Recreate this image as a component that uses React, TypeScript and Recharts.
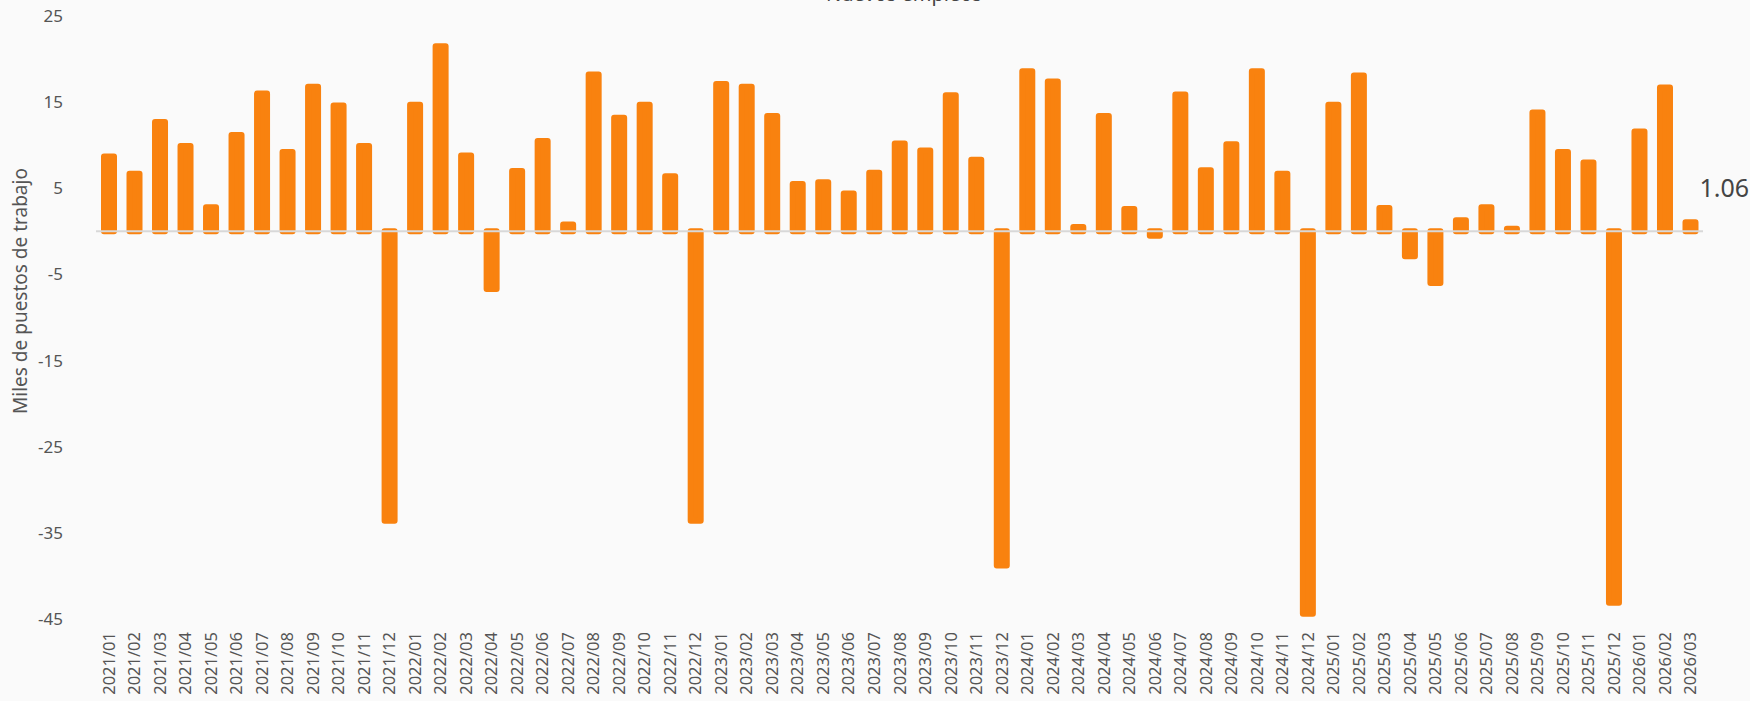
import React from "react";
import { BarChart, Bar, XAxis, YAxis, ReferenceLine } from "recharts";

// monthly change, thousands of jobs
const months = [
  "2021/01", "2021/02", "2021/03", "2021/04", "2021/05", "2021/06", "2021/07", "2021/08", "2021/09", "2021/10", "2021/11", "2021/12",
  "2022/01", "2022/02", "2022/03", "2022/04", "2022/05", "2022/06", "2022/07", "2022/08", "2022/09", "2022/10", "2022/11", "2022/12",
  "2023/01", "2023/02", "2023/03", "2023/04", "2023/05", "2023/06", "2023/07", "2023/08", "2023/09", "2023/10", "2023/11", "2023/12",
  "2024/01", "2024/02", "2024/03", "2024/04", "2024/05", "2024/06", "2024/07", "2024/08", "2024/09", "2024/10", "2024/11", "2024/12",
  "2025/01", "2025/02", "2025/03", "2025/04", "2025/05", "2025/06", "2025/07", "2025/08", "2025/09", "2025/10", "2025/11", "2025/12",
  "2026/01", "2026/02", "2026/03",
];

const values = [
  8.7, 6.7, 12.7, 9.9, 2.8, 11.2, 16.0, 9.2, 16.8, 14.6, 9.9, -33.6,
  14.7, 21.5, 8.8, -6.7, 7.0, 10.5, 0.8, 18.2, 13.2, 14.7, 6.4, -33.6,
  17.1, 16.8, 13.4, 5.5, 5.7, 4.4, 6.8, 10.2, 9.4, 15.8, 8.3, -38.8,
  18.6, 17.4, 0.5, 13.4, 2.6, -0.5, 15.9, 7.1, 10.1, 18.6, 6.7, -44.4,
  14.7, 18.1, 2.7, -2.9, -6.0, 1.3, 2.8, 0.3, 13.8, 9.2, 8.0, -43.1,
  11.6, 16.7, 1.06,
];

const yTicks = [25, 15, 5, -5, -15, -25, -35, -45];

const title = "Nuevos empleos";
const yTitle = "Miles de puestos de trabajo";

const ORANGE = "#F9820F";
const TEXT = "#555";
const FONT = "'Noto Sans', sans-serif";

const data = months.map((m, i) => ({ month: m, value: values[i] }));

const XTick = ({ x, y, payload }: any) => (
  <text
    transform={`translate(${x},${y}) rotate(-90)`}
    textAnchor="end"
    dy={6}
    fontSize={16.5}
    fill={TEXT}
    fontFamily={FONT}
  >
    {payload.value}
  </text>
);

const YTick = ({ x, y, payload }: any) => (
  <text x={x} y={y} dy={6} textAnchor="end" fontSize={17} fill={TEXT} fontFamily={FONT}>
    {payload.value}
  </text>
);

const LastLabel = (props: any) => {
  const { x, y, width, index, value } = props;
  if (index !== values.length - 1) return null;
  return (
    <text x={x + width + 4} y={y - 25} fontSize={25} fill="#444" fontFamily={FONT}>
      {Number(value).toFixed(2)}
    </text>
  );
};

export default function App() {
  return (
    <div style={{ position: "absolute", left: 0, top: 0, width: 1750, height: 701, background: "#fafafa" }}>
      <BarChart
        width={1750}
        height={701}
        data={data}
        margin={{ top: 16, right: 47, left: 0, bottom: 12 }}
      >
        <XAxis
          dataKey="month"
          interval={0}
          axisLine={false}
          tickLine={false}
          tickSize={0}
          tickMargin={13}
          height={70}
          tick={<XTick />}
        />
        <YAxis
          type="number"
          domain={[-45, 25]}
          ticks={yTicks}
          axisLine={false}
          tickLine={false}
          tickSize={0}
          tickMargin={33}
          width={96}
          tick={<YTick />}
          label={{
            content: () => (
              <text
                transform="translate(27,291) rotate(-90)"
                textAnchor="middle"
                fontSize={19}
                fill={TEXT}
                fontFamily={FONT}
              >
                {yTitle}
              </text>
            ),
          }}
        />
        <Bar
          dataKey="value"
          fill={ORANGE}
          stroke={ORANGE}
          strokeWidth={6}
          strokeLinejoin="round"
          barSize={10}
          isAnimationActive={false}
          label={<LastLabel />}
        />
        <ReferenceLine y={0} stroke="#d8d8d8" strokeWidth={2} />
      </BarChart>
      <svg width={1750} height={30} style={{ position: "absolute", left: 0, top: 0, pointerEvents: "none" }}>
        <text x={904} y={1} textAnchor="middle" fontSize={20} fill="#444" fontFamily={FONT}>
          {title}
        </text>
      </svg>
    </div>
  );
}
